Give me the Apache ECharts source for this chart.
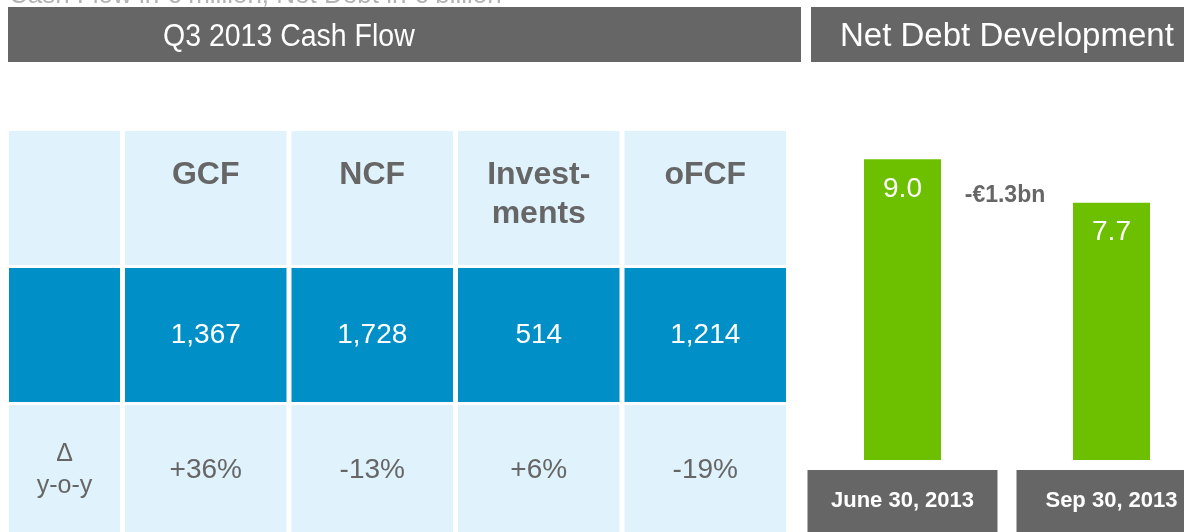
<!DOCTYPE html>
<html>
<head>
<meta charset="utf-8">
<script src="https://cdn.jsdelivr.net/npm/echarts@6/dist/echarts.min.js"></script>
<style>
  html, body { margin: 0; padding: 0; background: #fff; }
  #main { width: 1184px; height: 532px; }
</style>
</head>
<body>
<div id="main"></div>
<script>
// table data
const columns = ['GCF', 'NCF', 'Invest-\nments', 'oFCF'];
const cashFlow = [1367, 1728, 514, 1214];
const yoyChange = [36, -13, 6, -19];
const rowLabels = ['', '', 'Δ\ny-o-y'];
const rows = ['head', 'value', 'yoy'];
// net debt data (€ bn)
const dates = ['June 30, 2013', 'Sep 30, 2013'];
const netDebt = [9.0, 7.7];

const FONT = '"Liberation Sans", Arial, sans-serif';
const GREY = '#666666';
const LIGHT = '#e0f2fb';
const BLUE = '#008fc6';
const GREEN = '#6cc000';

const fmtNum = v => v.toLocaleString('en-US');
const fmtPct = v => (v > 0 ? '+' : '') + v + '%';

const tableData = [];
columns.forEach((c, i) => {
  tableData.push([i, 0, c]);
  tableData.push([i, 1, fmtNum(cashFlow[i])]);
  tableData.push([i, 2, fmtPct(yoyChange[i])]);
});
const labelData = rowLabels.map((l, r) => [0, r, l]);

function makeRender(source, isLabelCol) {
  return function (params, api) {
    const row = api.value(1);
    const c = api.coord([api.value(0), row]);
    const s = api.size([1, 1]);
    const w = s[0] - 5, h = s[1] - 3;
    const x = c[0] - s[0] / 2, y = c[1] - s[1] / 2;
    const text = source[params.dataIndex][2];
    let txt;
    if (row === 0) {
      txt = { text, x: x + w / 2, y: y + 25, fill: GREY, fontSize: 32, fontWeight: 'bold',
        fontFamily: FONT, align: 'center', verticalAlign: 'top', lineHeight: 39 };
    } else if (row === 1) {
      txt = { text, x: x + w / 2, y: y + h / 2, fill: '#fff', fontSize: 28,
        fontFamily: FONT, align: 'center', verticalAlign: 'middle' };
    } else {
      txt = { text, x: x + w / 2, y: y + 65, fill: GREY, fontSize: isLabelCol ? 25 : 28,
        fontFamily: FONT, align: 'center', verticalAlign: 'middle', lineHeight: 32 };
    }
    return {
      type: 'group',
      children: [
        { type: 'rect', shape: { x, y, width: w, height: h }, style: { fill: row === 1 ? BLUE : LIGHT } },
        { type: 'text', style: txt }
      ]
    };
  };
}

const chart = echarts.init(document.getElementById('main'));

const headerGraphics = [
  { id: 'unit', type: 'text', x: 9, y: -4,
    style: { text: 'Cash Flow in € million, Net Debt in € billion', fill: '#b3b3b3', fontSize: 26,
      fontFamily: FONT, verticalAlign: 'middle' } },
  { id: 'bar1', type: 'rect', shape: { x: 8, y: 7, width: 793, height: 55 }, style: { fill: GREY } },
  { id: 'bar2', type: 'rect', shape: { x: 811, y: 7, width: 380, height: 55 }, style: { fill: GREY } },
  { id: 't1', type: 'text', x: 163, y: 37, scaleX: 0.89,
    style: { text: 'Q3 2013 Cash Flow', fill: '#fff', fontSize: 32, fontFamily: FONT, verticalAlign: 'middle' } },
  { id: 't2', type: 'text', x: 840, y: 37,
    style: { text: 'Net Debt Development', fill: '#fff', fontSize: 33, fontFamily: FONT, verticalAlign: 'middle' } }
];

const option = {
  backgroundColor: '#fff',
  animation: false,
  grid: [
    { left: 9, width: 116, top: 131, height: 411, outerBoundsMode: 'none' },
    { left: 125, width: 666, top: 131, height: 411, outerBoundsMode: 'none' },
    { left: 798, width: 418, top: 59, height: 401, outerBoundsMode: 'none' }
  ],
  xAxis: [
    { gridIndex: 0, type: 'category', data: ['label'], show: false },
    { gridIndex: 1, type: 'category', data: columns, show: false },
    {
      gridIndex: 2, type: 'category', data: dates,
      axisLine: { show: false }, axisTick: { show: false },
      axisLabel: {
        interval: 0, margin: 10, color: '#fff', fontWeight: 'bold', fontSize: 22, fontFamily: FONT,
        backgroundColor: GREY, width: 190, height: 62, lineHeight: 62, align: 'center'
      }
    }
  ],
  yAxis: [
    { gridIndex: 0, type: 'category', data: rows, inverse: true, show: false },
    { gridIndex: 1, type: 'category', data: rows, inverse: true, show: false },
    { gridIndex: 2, type: 'value', min: 0, max: 12, show: false }
  ],
  series: [
    { type: 'custom', xAxisIndex: 0, yAxisIndex: 0, data: labelData, renderItem: makeRender(labelData, true) },
    { type: 'custom', xAxisIndex: 1, yAxisIndex: 1, data: tableData, renderItem: makeRender(tableData, false) },
    {
      type: 'bar', xAxisIndex: 2, yAxisIndex: 2, data: netDebt, barWidth: 77,
      itemStyle: { color: GREEN },
      label: {
        show: true, position: 'insideTop', distance: 16, color: '#fff', fontSize: 28, fontFamily: FONT,
        formatter: p => p.value.toFixed(1)
      }
    }
  ],
  graphic: { elements: headerGraphics }
};
chart.setOption(option);

// change annotation between the two bars
const p0 = chart.convertToPixel({ gridIndex: 2 }, [0, netDebt[0]]);
const p1 = chart.convertToPixel({ gridIndex: 2 }, [1, netDebt[1]]);
const diff = netDebt[1] - netDebt[0];
chart.setOption({
  graphic: {
    elements: headerGraphics.concat([{
      id: 'delta', type: 'text', x: (p0[0] + p1[0]) / 2 - 2, y: (p0[1] + p1[1]) / 2 + 15,
      style: {
        text: (diff < 0 ? '-' : '+') + '€' + Math.abs(diff).toFixed(1) + 'bn',
        fill: GREY, fontSize: 23, fontWeight: 'bold', fontFamily: FONT, align: 'center', verticalAlign: 'middle'
      }
    }])
  }
});
</script>
</body>
</html>
